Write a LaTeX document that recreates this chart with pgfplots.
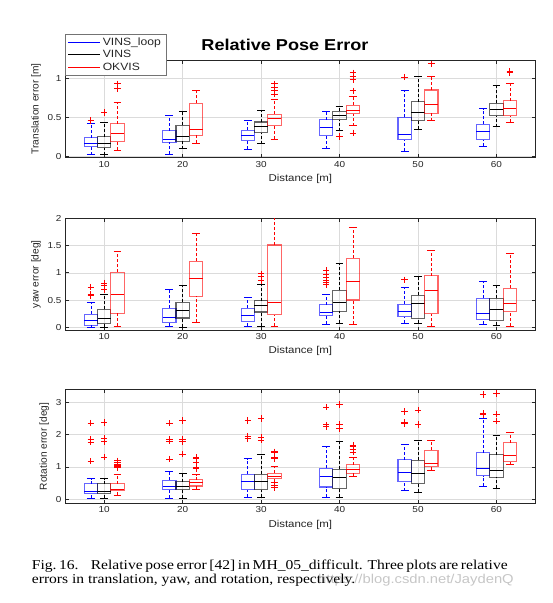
\documentclass[border=0pt]{standalone}
\usepackage{fontspec}
\setmainfont[FakeStretch=1.15]{Liberation Sans}
\newfontfamily\rotfont{Liberation Sans}
\newfontfamily\timesfont[FakeStretch=1.15]{Liberation Serif}
\usepackage{pgfplots}
\pgfplotsset{compat=1.18}

\definecolor{axgray}{RGB}{38,38,38}

\pgfplotsset{
  myaxis/.style={
    scale only axis, width=470.7bp,
    xmin=5, xmax=65, xtick={10,20,30,40,50,60},
    tick align=inside, major tick length=3.5bp,
    grid=major, major grid style={black!14, line width=0.5bp},
    axis line style={draw=axgray, line width=0.6bp},
    tick style={axgray, line width=0.6bp},
    ticklabel style={font=\fontsize{8.7}{10}\selectfont, text=axgray},
    xlabel style={font=\fontsize{10}{12}\selectfont, text=axgray},
    ylabel style={font=\rotfont\fontsize{10.2}{12}\selectfont, text=axgray},
    xlabel={Distance [m]},
    /pgf/number format/assume math mode=true,
    anchor=north west,
    clip=true,
  },
  boxst/.style={line width=1.1bp, draw opacity=0.6, forget plot, mark=none},
  medst/.style={line width=0.8bp, forget plot, mark=none},
  whst/.style={line width=0.6bp, dash pattern=on 3bp off 2bp, forget plot, mark=none, unbounded coords=jump},
  capst/.style={line width=0.8bp, forget plot, mark=none, unbounded coords=jump},
  outst/.style={only marks, mark=+, mark size=3.2bp, red, mark options={solid, line width=0.8bp}, forget plot},
}

% \bx{color}{position}{lower whisker}{lower quartile}{median}{upper quartile}{upper whisker}
\newcommand{\bx}[7]{%
  \pgfmathsetmacro{\xa}{#2-0.85}%
  \pgfmathsetmacro{\xb}{#2+0.85}%
  \pgfmathsetmacro{\ca}{#2-0.5}%
  \pgfmathsetmacro{\cb}{#2+0.5}%
  \edef\tmp{%
    \noexpand\addplot[#1, boxst] coordinates {(\xa,#4) (\xb,#4) (\xb,#6) (\xa,#6)} -- cycle;
    \noexpand\addplot[#1, medst] coordinates {(\xa,#5) (\xb,#5)};
    \noexpand\addplot[#1, whst] coordinates {(#2,#3) (#2,#4) (#2,nan) (#2,#6) (#2,#7)};
    \noexpand\addplot[#1, capst] coordinates {(\ca,#3) (\cb,#3) (\cb,nan) (\ca,#7) (\cb,#7)};
  }\tmp}
% \outl{position}{outlier values}
\newcommand{\outl}[2]{%
  \def\coordlist{}%
  \foreach \ov in {#2}{\xdef\coordlist{\coordlist (#1,\ov)}}%
  \edef\tmp{\noexpand\addplot[outst] coordinates {\coordlist};}\tmp}

\begin{document}
\begin{tikzpicture}
\useasboundingbox (0,0) rectangle (553bp,-603bp);

% ---------------- Translation ----------------
\begin{axis}[myaxis, at={(65bp,-60bp)}, height=97.7bp,
  ymin=-0.018, ymax=1.235, ytick={0,0.5,1},
  ylabel={Translation error [m]},
  legend image code/.code={\draw[#1] (0bp,0bp) -- (32bp,0bp);},
  legend style={at={(0,1.266)}, anchor=north west, draw=black!55, fill=white,
    font=\fontsize{10.6}{12}\selectfont, text=axgray, inner xsep=3bp, inner ysep=1.5bp,
    row sep=-0.5bp, cells={anchor=west}},
]
\addlegendimage{blue, line width=0.6bp}\addlegendentry{VINS\_loop}
\addlegendimage{black, line width=0.6bp}\addlegendentry{VINS}
\addlegendimage{red, line width=0.6bp}\addlegendentry{OKVIS}
% 10
\bx{blue}{8.3}{0.02}{0.12}{0.17}{0.24}{0.42}\outl{8.3}{0.46}
\bx{black}{10}{0.02}{0.11}{0.17}{0.25}{0.43}\outl{10}{0.56}
\bx{red}{11.7}{0.08}{0.19}{0.29}{0.42}{0.69}\outl{11.7}{0.87,0.93}
% 20
\bx{blue}{18.3}{0.03}{0.18}{0.22}{0.33}{0.53}
\bx{black}{20}{0.10}{0.19}{0.26}{0.40}{0.57}
\bx{red}{21.7}{0.17}{0.27}{0.34}{0.68}{0.85}
% 30
\bx{blue}{28.3}{0.09}{0.20}{0.27}{0.335}{0.46}
\bx{black}{30}{0.16}{0.30}{0.38}{0.44}{0.59}
\bx{red}{31.7}{0.22}{0.40}{0.48}{0.54}{0.73}\outl{31.7}{0.80,0.84,0.88,0.93}
% 40
\bx{blue}{38.3}{0.095}{0.27}{0.375}{0.47}{0.57}
\bx{black}{40}{0.33}{0.47}{0.53}{0.58}{0.64}\outl{40}{0.255}
\bx{red}{41.7}{0.39}{0.545}{0.595}{0.655}{0.77}\outl{41.7}{0.30,0.84,0.98,1.03,1.07}
% 50
\bx{blue}{48.3}{0.065}{0.21}{0.285}{0.50}{0.845}\outl{48.3}{1.015}
\bx{black}{50}{0.35}{0.455}{0.565}{0.70}{1.02}
\bx{red}{51.7}{0.455}{0.55}{0.67}{0.85}{1.02}\outl{51.7}{1.185}
% 60
\bx{blue}{58.3}{0.13}{0.21}{0.325}{0.41}{0.61}
\bx{black}{60}{0.38}{0.52}{0.605}{0.68}{0.91}
\bx{red}{61.7}{0.44}{0.52}{0.61}{0.71}{0.94}\outl{61.7}{1.07,1.09}
\end{axis}

% ---------------- Yaw ----------------
\begin{axis}[myaxis, at={(65bp,-218.3bp)}, height=111.7bp,
  ymin=-0.05, ymax=2, ytick={0,0.5,1,1.5,2},
  ylabel={yaw error [deg]},
]
% 10
\bx{blue}{8.3}{0.0}{0.04}{0.13}{0.24}{0.46}\outl{8.3}{0.58,0.60,0.74}
\bx{black}{10}{0.0}{0.07}{0.17}{0.33}{0.61}\outl{10}{0.69,0.76,0.81}
\bx{red}{11.7}{0.02}{0.26}{0.61}{1.01}{1.40}
% 20
\bx{blue}{18.3}{0.02}{0.09}{0.185}{0.345}{0.70}
\bx{black}{20}{0.0}{0.17}{0.31}{0.455}{0.775}
\bx{red}{21.7}{0.09}{0.57}{0.89}{1.21}{1.73}
% 30
\bx{blue}{28.3}{0.02}{0.11}{0.22}{0.35}{0.555}
\bx{black}{30}{0.02}{0.28}{0.41}{0.49}{0.79}\outl{30}{0.855,0.94,0.98}
\bx{red}{31.7}{0.02}{0.23}{0.46}{1.51}{2.40}
% 40
\bx{blue}{38.3}{0.06}{0.21}{0.28}{0.41}{0.61}\outl{38.3}{0.78,0.82,0.86,0.92,0.97,1.04}
\bx{black}{40}{0.075}{0.295}{0.46}{0.68}{1.175}
\bx{red}{41.7}{0.055}{0.50}{0.85}{1.27}{1.84}
% 50
\bx{blue}{48.3}{0.08}{0.19}{0.295}{0.425}{0.74}\outl{48.3}{0.87}
\bx{black}{50}{0.075}{0.165}{0.44}{0.59}{0.93}
\bx{red}{51.7}{0.02}{0.25}{0.68}{0.95}{1.42}
% 60
\bx{blue}{58.3}{0.06}{0.15}{0.26}{0.53}{0.84}
\bx{black}{60}{0.04}{0.13}{0.33}{0.53}{0.775}
\bx{red}{61.7}{0.02}{0.295}{0.44}{0.715}{1.35}
\end{axis}

% ---------------- Rotation ----------------
\begin{axis}[myaxis, at={(65bp,-389.3bp)}, height=114bp,
  ymin=-0.124, ymax=3.4, ytick={0,1,2,3},
  ylabel={Rotation error [deg]},
]
% 10
\bx{blue}{8.3}{0.04}{0.19}{0.25}{0.48}{0.64}\outl{8.3}{1.175,1.77,1.86,2.36}
\bx{black}{10}{0.04}{0.19}{0.25}{0.48}{0.64}\outl{10}{1.30,1.78,1.89,2.38}
\bx{red}{11.7}{0.125}{0.26}{0.32}{0.475}{0.77}\outl{11.7}{0.98,1.02,1.05,1.08,1.13,1.19}
% 20
\bx{blue}{18.3}{0.04}{0.29}{0.39}{0.59}{0.87}\outl{18.3}{1.24,1.80,1.86,2.35}
\bx{black}{20}{0.04}{0.29}{0.39}{0.55}{0.79}\outl{20}{1.40,1.78,1.85,2.44}
\bx{red}{21.7}{0.32}{0.41}{0.515}{0.60}{0.76}\outl{21.7}{0.95,0.98,1.15,1.25,1.30}
% 30
\bx{blue}{28.3}{0.07}{0.30}{0.54}{0.77}{1.26}\outl{28.3}{1.88,1.95,2.43}
\bx{black}{30}{0.07}{0.30}{0.54}{0.77}{1.38}\outl{30}{1.83,1.92,2.50}
\bx{red}{31.7}{0.52}{0.65}{0.72}{0.80}{1.02}\outl{31.7}{0.37,0.42,1.26,1.31,1.44,1.47}
% 40
\bx{blue}{38.3}{0.06}{0.38}{0.71}{0.96}{1.64}\outl{38.3}{2.25,2.30,2.85}
\bx{black}{40}{0.06}{0.34}{0.68}{0.93}{1.79}\outl{40}{2.19,2.32,2.93}
\bx{red}{41.7}{0.72}{0.81}{0.91}{1.07}{1.30}\outl{41.7}{1.46,1.53,1.63,1.67}
% 50
\bx{blue}{48.3}{0.26}{0.56}{0.845}{1.23}{1.70}\outl{48.3}{2.34,2.37,2.71}
\bx{black}{50}{0.22}{0.485}{0.80}{1.21}{1.82}\outl{50}{2.31,2.76}
\bx{red}{51.7}{0.90}{1.01}{1.12}{1.52}{1.81}
% 60
\bx{blue}{58.3}{0.40}{0.73}{0.94}{1.44}{2.50}\outl{58.3}{2.62,2.66,3.24}
\bx{black}{60}{0.34}{0.68}{0.88}{1.38}{1.97}\outl{60}{2.42,2.63,3.27}
\bx{red}{61.7}{1.08}{1.165}{1.35}{1.75}{2.07}
\end{axis}

% Title
\node[font=\bfseries\fontsize{15.8}{18}\selectfont, text=black] at (285bp,-45bp) {Relative Pose Error};

% Caption
\node[anchor=base west, inner sep=0] at (31.7bp,-569bp)
  {\timesfont\fontsize{13.6}{15}\selectfont\makebox[470bp][s]{Fig.~16.\hspace{0.9em}Relative pose error [42] in MH\_05\_difficult. Three plots are relative}};
\node[anchor=base west, inner sep=0] at (31.7bp,-583.5bp)
  {\timesfont\fontsize{13.6}{15}\selectfont errors in translation, yaw, and rotation, respectively.};
\node[anchor=base west, inner sep=0, text=gray, text opacity=0.45] at (318bp,-583.5bp)
  {\fontsize{12.9}{15}\selectfont https://blog.csdn.net/JaydenQ};
\end{tikzpicture}
\end{document}
